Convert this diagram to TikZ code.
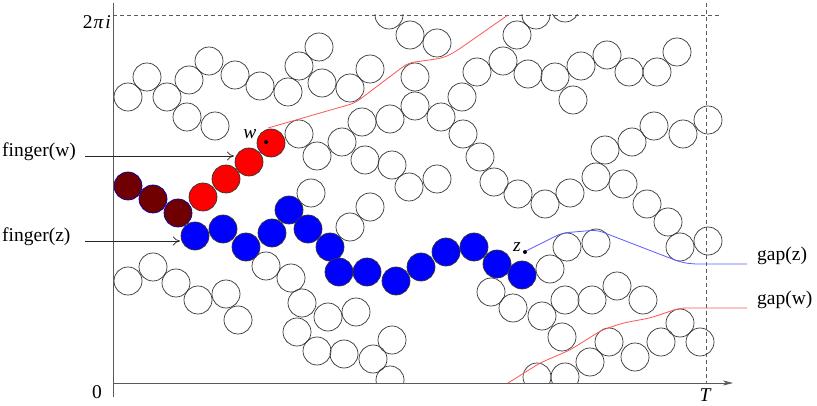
\documentclass[tikz,border=0pt]{standalone}
\usepackage{fontspec}
\setmainfont{Liberation Serif}
\usetikzlibrary{arrows.meta}
\definecolor{maroon}{RGB}{112,0,0}
\definecolor{pathred}{RGB}{255,85,85}
\definecolor{pathblue}{RGB}{90,90,255}
\definecolor{axisgray}{RGB}{90,90,90}
\begin{document}
\begin{tikzpicture}[x=1pt,y=-1pt,
  disc/.style={draw=black!80,line width=0.7pt},
  axisline/.style={draw=axisgray,line width=0.8pt},
  guide/.style={draw=axisgray,line width=0.7pt,dash pattern=on 4pt off 3pt},
  lab/.style={font=\fontsize{19.5}{22}\selectfont,inner sep=0pt},
  fingerarrow/.style={draw=black!85,line width=0.7pt,-{To[length=7pt,width=9pt]}},
  gappath/.style={line width=0.8pt,rounded corners=6pt}]
\useasboundingbox (0,0) rectangle (817,406);
% guides
\draw[guide] (113,15) -- (720,15);
\draw[guide] (706,3) -- (706,383);
% circles
\begin{scope}
\clip (113,15) rectangle (817,383);
\foreach \x/\y in {128/97,147/77,167/97,187/117,215/126,189/80,209/61,235/75,260/86,288/92,299/66,319/47,322/83,299/134,317/156,342/142,350/88,370/69,362/122,390/119,365/160,392/165,409/187,437/179,370/207,350/227,311/193,415/77,415/106,441/117,462/97,477/72,503/61,517/35,528/74,555/77,463/134,480/157,494/182,518/194,545/204,410/35,437/43,389/15,536/15,565/8,581/66,607/55,629/72,657/72,677/52,573/100,654/126,683/134,708/120,632/142,605/150,596/177,623/184,647/204,570/193,668/222,680/247,708/241,567/247,596/243,550/269,128/281,153/267,176/283,198/300,226/294,238/320,266/266,291/278,302/303,328/317,297/332,317/351,344/354,356/312,392/340,373/359,390/380,491/292,513/308,542/316,565/300,592/300,617/286,643/300,562/337,537/377,565/377,590/362,609/342,635/357,661/342,680/323,700/342}
  \draw[disc] (\x,\y) circle[radius=14];
\foreach \x/\y in {128/186,153/199,178/213}
  \draw[disc,draw=blue!70!black,fill=maroon] (\x,\y) circle[radius=14];
\foreach \x/\y in {203/197,226/179,249/162,271/143}
  \draw[disc,fill=red] (\x,\y) circle[radius=14];
\foreach \x/\y in {195/236,223/229,246/247,272/233,289/210,308/229,330/247,339/272,367/272,396/281,421/267,446/252,474/247,497/264,522/275}
  \draw[disc,fill=blue] (\x,\y) circle[radius=14];
\end{scope}
% axes
\draw[axisline] (113,3) -- (113,397);
\coordinate (xstart) at (113,383);
\coordinate (xend) at (733,383);
\draw[axisline,-{Stealth[length=10pt,width=5pt,inset=3pt]}] (xstart) -- (xend);
% points
\fill (266,142) circle[radius=2];
\fill (525,252) circle[radius=2];
\node[lab,anchor=base] (wlab) at (250,139) {\itshape w};
\node[lab,anchor=base] (zlab) at (517,252) {\itshape z};
% gap paths
\coordinate (wpt) at (268,128);
\coordinate (zpt) at (526,251);
\coordinate (gze) at (747,264);
\coordinate (gwe) at (747,308);
\coordinate (gws) at (508,383);
\draw[gappath,pathred] (wpt) -- (355,103) -- (408,63) -- (443,58) -- (455,52) -- (508,15);
\draw[gappath,pathred] (gws) -- (540,363) -- (570,350) -- (602,330) -- (623,323) -- (650,318) -- (680,308) -- (gwe);
\draw[gappath,pathblue] (zpt) -- (562,233) -- (597,230) -- (680,262) -- (692,264) -- (gze);
% labels
\node[lab,anchor=base east] (twopi) at (111,29) {2\kern1pt\itshape π\kern2pt i};
\node[lab,anchor=base] (zero) at (97,398) {0};
\node[lab,anchor=base] (tlab) at (705,401) {\itshape T};
\node[lab,anchor=base west] (gapz) at (757,261) {gap(z)};
\node[lab,anchor=base west] (gapw) at (757,305) {gap(w)};
\node[lab,anchor=base west] (fw) at (2,157) {finger(w)};
\node[lab,anchor=base west] (fz) at (2,242) {finger(z)};
\coordinate (fwa) at (85,156);
\coordinate (fwt) at (234,156);
\coordinate (fza) at (85,241);
\coordinate (fzt) at (180,241);
\draw[fingerarrow] (fwa) -- (fwt);
\draw[fingerarrow] (fza) -- (fzt);
\end{tikzpicture}
\end{document}
